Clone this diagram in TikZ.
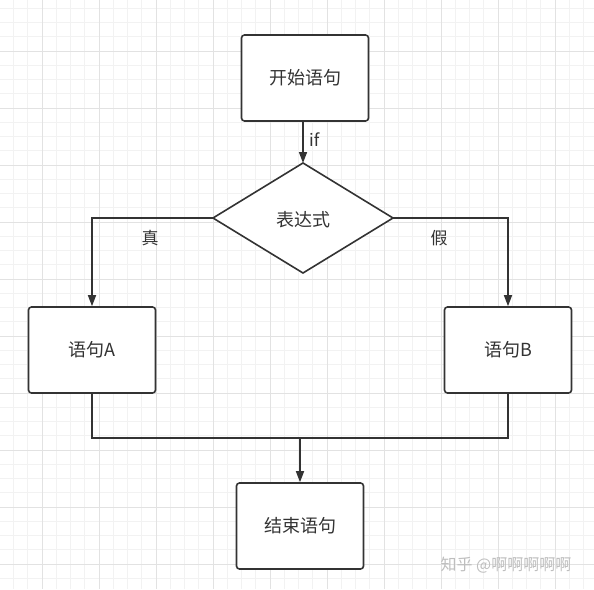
\documentclass[tikz,border=0pt]{standalone}
\usepackage{fontspec}
\usepackage{xcolor}
\usetikzlibrary{arrows.meta}
\newfontfamily\cjk{Noto Sans CJK SC}
\definecolor{flowLine}{RGB}{51, 51, 51}
\definecolor{gridMinor}{RGB}{242, 242, 242}
\definecolor{gridMajor}{RGB}{226, 226, 226}
\definecolor{markGray}{RGB}{190, 190, 190}

\begin{document}
\begin{tikzpicture}[x=1pt, y=-1pt,
    stmt/.style={draw=flowLine, line width=1.6pt, fill=white, rounded corners=3pt,
                 minimum width=127pt, minimum height=86pt, text=flowLine,
                 font=\cjk\fontsize{18}{21}\selectfont},
    cond/.style={draw=flowLine, line width=1.6pt, fill=white, text=flowLine,
                 font=\cjk\fontsize{18}{21}\selectfont},
    flow/.style={draw=flowLine, line width=1.6pt},
    arrow/.style={flow, -{Triangle[length=11pt, width=8pt]}},
    tag/.style={text=flowLine, font=\cjk\fontsize{17}{20}\selectfont}]
    \useasboundingbox (0,0) rectangle (594,589);
    % Grid
    \foreach \gx in {0,...,41} {
        \draw[gridMinor, line width=0.8pt] (13.5+14.25*\gx,0) -- (13.5+14.25*\gx,589);
        \draw[gridMinor, line width=0.8pt] (0,8.25+14.25*\gx) -- (594,8.25+14.25*\gx);
    }
    \foreach \gx in {-1,...,10} {
        \draw[gridMajor, line width=0.8pt] (42+57*\gx,0) -- (42+57*\gx,589);
        \draw[gridMajor, line width=0.8pt] (0,51+57*\gx) -- (594,51+57*\gx);
    }

    % Statements
    \node[stmt] (start) at (305,78) {开始语句};
    \coordinate (exprC) at (303,218);
    \path[cond] (303,163) -- (393,218) -- (303,273) -- (213,218) -- cycle;
    \node[tag, font=\cjk\fontsize{18}{21}\selectfont] (expr) at (303,220) {表达式};
    \coordinate (exprN) at (303,163);
    \coordinate (exprW) at (213,218);
    \coordinate (exprE) at (393,218);
    \node[stmt] (stmtA) at (92,350) {语句A};
    \node[stmt] (stmtB) at (508,350) {语句B};
    \node[stmt] (finish) at (300,526) {结束语句};
    \coordinate (merge) at (300,438);

    % Connectors
    \draw[arrow] (start.south -| exprN) -- node[tag, right, xshift=2pt, yshift=3pt] {if} (exprN);
    \draw[arrow] (exprW) -| node[tag, pos=0.26, below=8pt] {真} (stmtA);
    \draw[arrow] (exprE) -| node[tag, pos=0.2, below=8pt] {假} (stmtB);
    \draw[flow] (stmtA) |- (merge) -| (stmtB);
    \draw[arrow] (merge) -- (finish);

    % Watermark
    \node[text=markGray, font=\cjk\fontsize{16}{19}\selectfont] (mark) at (506,565) {知乎 @啊啊啊啊啊};
\end{tikzpicture}
\end{document}
